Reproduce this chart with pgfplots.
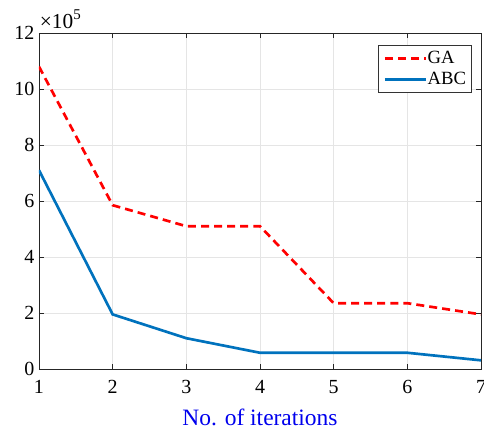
\documentclass[border=0pt]{standalone}
\usepackage{fontspec}
\setmainfont{Liberation Serif}
\usepackage{pgfplots}
\pgfplotsset{compat=1.18}
\definecolor{abcblue}{rgb}{0,0.447,0.741}
\definecolor{lblblue}{rgb}{0,0,0.93}
\begin{document}
\begin{tikzpicture}[x=1pt,y=1pt]
\begin{axis}[
  at={(0,0)}, anchor=origin,
  scale only axis,
  width=331.5pt, height=252pt,
  xmin=1, xmax=7, ymin=0, ymax=1200000,
  xtick={1,...,7},
  ytick={0,200000,400000,600000,800000,1000000,1200000},
  scaled y ticks=base 10:-5,
  ytick scale label code/.code={\fontsize{16}{17}\selectfont ×10\textsuperscript{5}},
  every y tick scale label/.style={at={(rel axis cs:0,1)}, anchor=base west,
    xshift=0.5pt, yshift=3.5pt, inner sep=0pt},
  /pgf/number format/assume math mode=true,
  tick label style={font=\fontsize{15}{16}\selectfont},
  xticklabel style={yshift=-5pt},
  tick align=inside,
  major tick length=3.5pt,
  axis line style={line width=0.6pt, black!85},
  tick style={black!85, line width=0.6pt},
  grid=major,
  major grid style={gray!20, line width=0.5pt},
  xlabel={No. of iterations},
  xlabel style={at={(axis description cs:0.5,0)}, anchor=base, yshift=-42pt,
    font=\fontsize{17.6}{18}\selectfont, text=lblblue},
  legend style={at={(1,1)}, anchor=north east, xshift=-7pt, yshift=-9pt,
    font=\fontsize{14}{15}\selectfont,
    draw=black!80, line width=0.5pt, inner xsep=4pt, inner ysep=2pt, row sep=0pt,
    nodes={inner xsep=0pt, inner ysep=2.5pt}},
  legend cell align=left,
  legend image code/.code={\draw[#1] (0pt,0pt) -- (31pt,0pt);},
]
\addplot[red, dash pattern=on 6pt off 3.8pt, line width=2pt] coordinates {
  (1,1080000) (2,585000) (3,510000) (4,510000) (5,235000) (6,235000) (7,195000)
};
\addlegendentry{GA}
\addplot[abcblue, line width=2pt] coordinates {
  (1,710000) (2,195000) (3,110000) (4,58000) (5,58000) (6,58000) (7,31000)
};
\addlegendentry{ABC}
\end{axis}
\pgfresetboundingbox
\path[use as bounding box] (-29.25pt,-45.75pt) rectangle (333.75pt,276.75pt);
\end{tikzpicture}
\end{document}
